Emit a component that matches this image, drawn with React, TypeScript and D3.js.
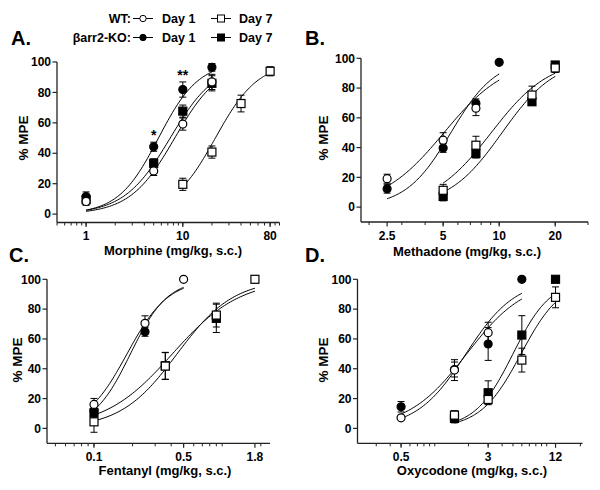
import React, { useEffect, useRef } from "react";
import * as d3 from "d3";

// ---- data (dose, %MPE mean, SEM) ----
// A. Morphine
const morphineWT1 = { dose: [1, 5, 10, 20], mpe: [8.3, 28.4, 59.2, 86.9], sem: [2.5, 3, 4, 5] };
const morphineWT7 = { dose: [10, 20, 40, 80], mpe: [19.6, 40.8, 72.7, 93.9], sem: [4, 4, 5.5, 3] };
const morphineKO1 = { dose: [1, 5, 10, 20], mpe: [11.6, 44.3, 81.9, 96.5], sem: [3, 3, 5, 2.5] };
const morphineKO7 = { dose: [1, 5, 10, 20], mpe: [9.5, 33.4, 67.7, 86], sem: [3, 3, 4, 5] };
const morphineFits = { wt1: [8.25, 1.88], wt7: [21.7, 1.96], ko1: [5.6, 2.09], ko7: [7.4, 1.82] };
const morphineRanges = { wt1: [1, 20], wt7: [10, 80], ko1: [1, 20], ko7: [1, 20] };
const morphineTicks = [1, 10, 80];
const morphineStars: [number, string, number][] = [[5, "*", 49], [10, "**", 88]];

// B. Methadone
const methadoneWT1 = { dose: [2.5, 5, 7.5], mpe: [19.1, 45, 66.5], sem: [3, 5, 5] };
const methadoneWT7 = { dose: [5, 7.5, 15, 20], mpe: [11.3, 41.6, 75.3, 93.5], sem: [4, 6, 6, 3] };
const methadoneKO1 = { dose: [2.5, 5, 7.5, 10], mpe: [12.4, 39.8, 69.7, 97.3], sem: [3, 3, 3, 0] };
const methadoneKO7 = { dose: [5, 7.5, 15, 20], mpe: [7.2, 36, 70.8, 95.5], sem: [3, 3, 2, 2] };
const methadoneFits = { wt1: [5.05, 2.58], wt7: [9.06, 2.77], ko1: [5.5, 3.58], ko7: [10.36, 3.01] };
const methadoneRanges = { wt1: [2.5, 10], wt7: [5, 20], ko1: [2.5, 10], ko7: [5, 20] };
const methadoneTicks = [2.5, 5, 10, 20];

// C. Fentanyl
const fentanylWT1 = { dose: [0.1, 0.25, 0.5], mpe: [16.1, 70.5, 100], sem: [4, 5, 0] };
const fentanylWT7 = { dose: [0.1, 0.36, 0.9, 1.8], mpe: [4.4, 41.8, 76, 100], sem: [7, 9, 8, 0] };
const fentanylKO1 = { dose: [0.1, 0.25], mpe: [11.8, 64.8], sem: [3, 3] };
const fentanylKO7 = { dose: [0.1, 0.36, 0.9], mpe: [10.5, 42, 73.8], sem: [3, 9, 9.5] };
const fentanylFits = { wt1: [0.181, 2.7], wt7: [0.445, 1.97], ko1: [0.1925, 3.0], ko7: [0.409, 1.65] };
const fentanylRanges = { wt1: [0.1, 0.5], wt7: [0.1, 1.8], ko1: [0.1, 0.5], ko7: [0.1, 1.8] };
const fentanylTicks = [0.1, 0.5, 1.8];

// D. Oxycodone
const oxycodoneWT1 = { dose: [0.5, 1.5, 3], mpe: [7.1, 39.1, 64.2], sem: [1, 7, 7] };
const oxycodoneWT7 = { dose: [1.5, 3, 6, 12], mpe: [8.9, 19.4, 45.8, 87.9], sem: [3, 3, 8, 7] };
const oxycodoneKO1 = { dose: [0.5, 1.5, 3, 6], mpe: [14.5, 39.5, 56.6, 100], sem: [3.5, 5, 11, 0] };
const oxycodoneKO7 = { dose: [1.5, 3, 6, 12], mpe: [6.7, 23.9, 62.6, 100], sem: [3, 8, 13, 0] };
const oxycodoneFits = { wt1: [1.9, 1.97], wt7: [5.9, 2.4], ko1: [1.93, 1.66], ko7: [5.0, 2.56] };
const oxycodoneRanges = { wt1: [0.5, 6], wt7: [1.5, 12], ko1: [0.5, 6], ko7: [1.5, 12] };
const oxycodoneTicks = [0.5, 3, 12];

const yTicks = [0, 20, 40, 60, 80, 100];

const FONT = "'Liberation Sans', Arial, Helvetica, sans-serif";

const panels = [
  {
    letter: "A.", letterPos: [11, 45], title: "Morphine (mg/kg, s.c.)",
    series: { wt1: morphineWT1, wt7: morphineWT7, ko1: morphineKO1, ko7: morphineKO7 },
    fits: morphineFits, ranges: morphineRanges, ticks: morphineTicks, stars: morphineStars,
    xDomain: [0.5, 100], xRange: [57, 279.5], yDomain: [-5.5, 100], yRange: [222.5, 62],
    titleX: 173, titleY: 255, yTitleX: 23, yTitleY: 138,
  },
  {
    letter: "B.", letterPos: [305, 45], title: "Methadone (mg/kg, s.c.)",
    series: { wt1: methadoneWT1, wt7: methadoneWT7, ko1: methadoneKO1, ko7: methadoneKO7 },
    fits: methadoneFits, ranges: methadoneRanges, ticks: methadoneTicks, stars: [],
    xDomain: [1.81, 30], xRange: [361, 588], yDomain: [-10, 100], yRange: [222, 58.3],
    titleX: 467, titleY: 256, yTitleX: 323, yTitleY: 138,
  },
  {
    letter: "C.", letterPos: [9, 262], title: "Fentanyl (mg/kg, s.c.)",
    series: { wt1: fentanylWT1, wt7: fentanylWT7, ko1: fentanylKO1, ko7: fentanylKO7 },
    fits: fentanylFits, ranges: fentanylRanges, ticks: fentanylTicks, stars: [],
    xDomain: [0.043, 2.36], xRange: [47, 270], yDomain: [-10, 100], yRange: [443.3, 279.3],
    titleX: 165, titleY: 475, yTitleX: 17, yTitleY: 360,
  },
  {
    letter: "D.", letterPos: [305, 262], title: "Oxycodone (mg/kg, s.c.)",
    series: { wt1: oxycodoneWT1, wt7: oxycodoneWT7, ko1: oxycodoneKO1, ko7: oxycodoneKO7 },
    fits: oxycodoneFits, ranges: oxycodoneRanges, ticks: oxycodoneTicks, stars: [],
    xDomain: [0.204, 20.9], xRange: [357.5, 582.5], yDomain: [-10, 100], yRange: [443.3, 279.3],
    titleX: 472, titleY: 475, yTitleX: 323, yTitleY: 360,
  },
];

// draw order: filled squares, open squares, filled circles, open circles
const styles = [
  { key: "ko7", shape: "square", fill: "black" },
  { key: "wt7", shape: "square", fill: "white" },
  { key: "ko1", shape: "circle", fill: "black" },
  { key: "wt1", shape: "circle", fill: "white" },
];

function drawMarker(g: any, shape: string, fill: string, cx: number, cy: number) {
  if (shape === "circle") {
    g.append("circle").attr("cx", cx).attr("cy", cy).attr("r", 4)
      .attr("fill", fill).attr("stroke", "black").attr("stroke-width", 1.2);
  } else {
    g.append("rect").attr("x", cx - 4).attr("y", cy - 4).attr("width", 8).attr("height", 8)
      .attr("fill", fill).attr("stroke", "black").attr("stroke-width", 1.2);
  }
}

export default function App() {
  const ref = useRef<HTMLDivElement>(null);

  useEffect(() => {
    if (!ref.current) return;
    d3.select(ref.current).selectAll("*").remove();

    const svg = d3.select(ref.current).append("svg")
      .attr("width", 600).attr("height", 490)
      .style("font-family", FONT).style("font-weight", "bold");

    svg.append("rect").attr("width", 600).attr("height", 490).attr("fill", "white");

    panels.forEach((p) => {
      const x = d3.scaleLog().domain(p.xDomain).range(p.xRange);
      const y = d3.scaleLinear().domain(p.yDomain).range(p.yRange);
      const g = svg.append("g");
      const axisY = p.yRange[0];
      const axisX = p.xRange[0];

      // x axis
      g.append("line").attr("x1", p.xRange[0]).attr("x2", p.xRange[1])
        .attr("y1", axisY).attr("y2", axisY).attr("stroke", "#222").attr("stroke-width", 1.3);
      const minor: number[] = [];
      const k0 = Math.floor(Math.log10(p.xDomain[0]));
      const k1 = Math.ceil(Math.log10(p.xDomain[1]));
      for (let k = k0; k <= k1; k++) {
        for (let n = 1; n <= 9; n++) {
          const v = +(n * Math.pow(10, k)).toPrecision(6);
          if (v >= p.xDomain[0] && v <= p.xDomain[1]) minor.push(v);
        }
      }
      g.selectAll(".minor").data(minor).enter().append("line")
        .attr("x1", (d) => x(d)).attr("x2", (d) => x(d))
        .attr("y1", axisY).attr("y2", axisY + 3)
        .attr("stroke", "#222").attr("stroke-width", 1);
      g.selectAll(".major").data(p.ticks).enter().append("line")
        .attr("x1", (d) => x(d)).attr("x2", (d) => x(d))
        .attr("y1", axisY).attr("y2", axisY + 4.5)
        .attr("stroke", "#222").attr("stroke-width", 1.2);
      g.selectAll(".xlab").data(p.ticks).enter().append("text")
        .attr("x", (d) => x(d)).attr("y", axisY + 17.5)
        .attr("text-anchor", "middle").attr("font-size", 12).text((d) => String(d));
      g.append("text").attr("x", p.titleX).attr("y", p.titleY)
        .attr("text-anchor", "middle").attr("font-size", 13).text(p.title);

      // y axis
      g.append("line").attr("x1", axisX).attr("x2", axisX)
        .attr("y1", axisY).attr("y2", y(100)).attr("stroke", "#222").attr("stroke-width", 1.3);
      g.selectAll(".ytick").data(yTicks).enter().append("line")
        .attr("x1", axisX - 4.5).attr("x2", axisX)
        .attr("y1", (d) => y(d)).attr("y2", (d) => y(d))
        .attr("stroke", "#222").attr("stroke-width", 1.2);
      g.selectAll(".ylab").data(yTicks).enter().append("text")
        .attr("x", axisX - 6).attr("y", (d) => y(d) + 4.2)
        .attr("text-anchor", "end").attr("font-size", 12).text((d) => String(d));
      g.append("text")
        .attr("transform", `translate(${p.yTitleX},${p.yTitleY}) rotate(-90)`)
        .attr("text-anchor", "middle").attr("dy", "0.35em").attr("font-size", 13.5).text("% MPE");

      // panel letter
      g.append("text").attr("x", p.letterPos[0]).attr("y", p.letterPos[1])
        .attr("font-size", 20).text(p.letter);

      // fitted curves
      const line = d3.line<number[]>().x((d) => x(d[0])).y((d) => y(d[1]));
      styles.forEach((s) => {
        const [ed50, hill] = (p.fits as any)[s.key];
        const [a, b] = (p.ranges as any)[s.key];
        const pts = d3.range(81).map((i) => {
          const dose = a * Math.pow(b / a, i / 80);
          return [dose, 100 / (1 + Math.pow(ed50 / dose, hill))];
        });
        g.append("path").attr("d", line(pts)).attr("fill", "none")
          .attr("stroke", "black").attr("stroke-width", 1);
      });

      // error bars
      styles.forEach((s) => {
        const ser = (p.series as any)[s.key];
        ser.dose.forEach((dose: number, i: number) => {
          const e = ser.sem[i];
          if (!e) return;
          const cx = x(dose);
          const y1 = y(ser.mpe[i] + e);
          const y2 = y(ser.mpe[i] - e);
          g.append("line").attr("x1", cx).attr("x2", cx).attr("y1", y1).attr("y2", y2)
            .attr("stroke", "black").attr("stroke-width", 1);
          [y1, y2].forEach((yy) => {
            g.append("line").attr("x1", cx - 3.5).attr("x2", cx + 3.5).attr("y1", yy).attr("y2", yy)
              .attr("stroke", "black").attr("stroke-width", 1);
          });
        });
      });

      // markers
      styles.forEach((s) => {
        const ser = (p.series as any)[s.key];
        ser.dose.forEach((dose: number, i: number) => {
          drawMarker(g, s.shape, s.fill, x(dose), y(ser.mpe[i]));
        });
      });

      // significance stars
      p.stars.forEach(([dose, label, level]) => {
        g.append("text").attr("x", x(dose)).attr("y", y(level))
          .attr("text-anchor", "middle").attr("font-size", 14).text(label);
      });
    });

    // legend
    const legendRows = [
      { label: "WT:", fill: "white", baseline: 23 },
      { label: "\u03B2arr2-KO:", fill: "black", baseline: 42 },
    ];
    const lg = svg.append("g").attr("font-size", 12.5);
    legendRows.forEach((r) => {
      const cy = r.baseline - 4.5;
      lg.append("text").attr("x", 131).attr("y", r.baseline).attr("text-anchor", "end").text(r.label);
      [
        { x0: 133, shape: "circle", text: "Day 1", tx: 162 },
        { x0: 211, shape: "square", text: "Day 7", tx: 239 },
      ].forEach((item) => {
        lg.append("line").attr("x1", item.x0).attr("x2", item.x0 + 20).attr("y1", cy).attr("y2", cy)
          .attr("stroke", "black").attr("stroke-width", 1);
        if (item.shape === "circle") {
          lg.append("circle").attr("cx", item.x0 + 10).attr("cy", cy).attr("r", 3.2)
            .attr("fill", r.fill).attr("stroke", "black").attr("stroke-width", 1);
        } else {
          lg.append("rect").attr("x", item.x0 + 6.5).attr("y", cy - 3.5).attr("width", 7).attr("height", 7)
            .attr("fill", r.fill).attr("stroke", "black").attr("stroke-width", 1);
        }
        lg.append("text").attr("x", item.tx).attr("y", r.baseline).text(item.text);
      });
    });
  }, []);

  return <div ref={ref} style={{ position: "absolute", left: 0, top: 0, width: 600, height: 490 }} />;
}
